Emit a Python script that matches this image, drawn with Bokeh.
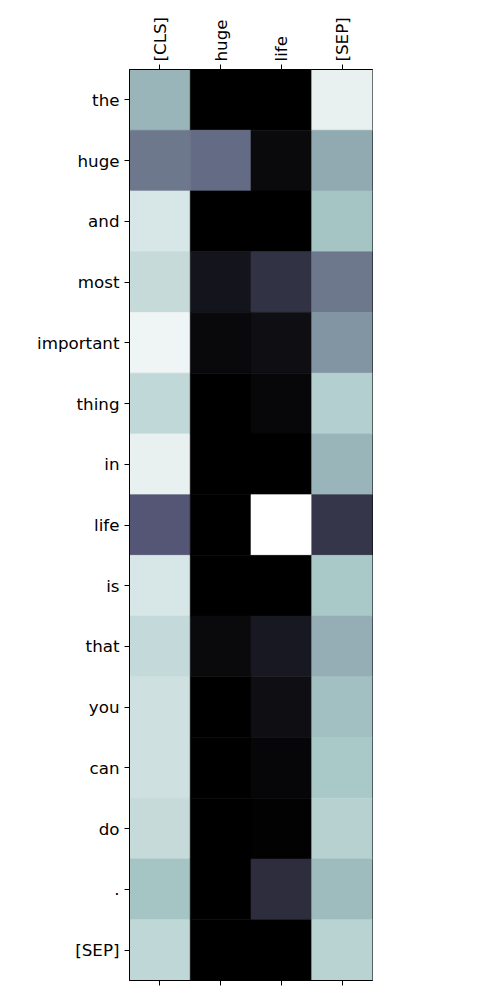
from bokeh.plotting import figure
from bokeh.models import ColumnDataSource, LinearColorMapper, Range1d, FixedTicker, LinearAxis
from bokeh.embed import file_html
from bokeh.resources import INLINE

cols = ["[CLS]", "huge", "life", "[SEP]"]
rows = ["the", "huge", "and", "most", "important", "thing", "in", "life",
        "is", "that", "you", "can", "do", ".", "[SEP]"]
v_cls = [0.69, 0.49, 0.885, 0.834, 0.95, 0.822, 0.93, 0.38, 0.885, 0.83, 0.862, 0.86, 0.835, 0.74, 0.82]
v_huge = [0.0, 0.448, 0.0, 0.09, 0.04, 0.0, 0.0, 0.0, 0.0, 0.045, 0.0, 0.0, 0.0, 0.0, 0.0]
v_life = [0.0, 0.045, 0.0, 0.224, 0.065, 0.035, 0.0, 1.0, 0.0, 0.11, 0.065, 0.03, 0.01, 0.2, 0.0]
v_sep = [0.93, 0.65, 0.74, 0.49, 0.583, 0.785, 0.69, 0.246, 0.75, 0.665, 0.726, 0.75, 0.79, 0.708, 0.80]

# matplotlib "bone" colormap
def interp(segs, t):
    for (x0, y0), (x1, y1) in zip(segs[:-1], segs[1:]):
        if x0 <= t <= x1:
            return y0 + (y1 - y0) * (t - x0) / (x1 - x0)
    return segs[-1][1]

R = [(0.0, 0.0), (0.746032, 0.652778), (1.0, 1.0)]
G = [(0.0, 0.0), (0.365079, 0.319444), (0.746032, 0.777778), (1.0, 1.0)]
B = [(0.0, 0.0), (0.365079, 0.444444), (1.0, 1.0)]
bone = []
for i in range(256):
    t = i / 255
    r, g, b = (round(255 * interp(s, t)) for s in (R, G, B))
    bone.append("#%02x%02x%02x" % (r, g, b))

xs, ys, vs = [], [], []
for j, series in enumerate([v_cls, v_huge, v_life, v_sep]):
    for i, v in enumerate(series):
        xs.append(j)
        ys.append(i)
        vs.append(v)
src = ColumnDataSource(dict(x=xs, y=ys, v=vs))
mapper = LinearColorMapper(palette=bone, low=0.0, high=1.0)

p = figure(width=500, height=1000, output_backend="svg", toolbar_location=None,
           x_range=Range1d(-0.5, 3.5), y_range=Range1d(14.5, -0.5),
           min_border_left=129, min_border_right=128, min_border_top=69, min_border_bottom=20,
           x_axis_location="below")
p.rect(x="x", y="y", width=1, height=1, source=src,
       fill_color={"field": "v", "transform": mapper},
       line_color={"field": "v", "transform": mapper}, line_width=0.6)

p.grid.visible = False
p.outline_line_color = "black"
p.outline_line_width = 1
p.outline_line_alpha = 1
p.background_fill_color = "white"

font = "DejaVu Sans"
fs = "16.7px"
# bottom axis: ticks only
xb = p.xaxis[0]
xb.ticker = FixedTicker(ticks=list(range(len(cols))))
xb.major_label_text_font_size = "0px"
xb.major_label_text_color = None
xb.minor_tick_line_color = None
xb.major_tick_out = 5
xb.major_tick_in = 0
xb.axis_line_color = "black"
xb.major_tick_line_color = "black"

# top axis with labels
xt = LinearAxis(ticker=FixedTicker(ticks=list(range(len(cols)))),
                major_label_overrides={i: c for i, c in enumerate(cols)},
                major_label_orientation="vertical")
xt.major_label_text_font = font
xt.major_label_text_font_size = fs
xt.major_label_text_color = "black"
xt.minor_tick_line_color = None
xt.major_tick_out = 5
xt.major_tick_in = 0
xt.major_label_standoff = 3
p.add_layout(xt, "above")

ya = p.yaxis[0]
ya.ticker = FixedTicker(ticks=list(range(len(rows))))
ya.major_label_overrides = {i: r for i, r in enumerate(rows)}
ya.major_label_text_font = font
ya.major_label_text_font_size = fs
ya.major_label_text_color = "black"
ya.minor_tick_line_color = None
ya.major_tick_out = 5
ya.major_tick_in = 0
ya.major_label_standoff = 5

open("out.html", "w").write(file_html(p, INLINE))
